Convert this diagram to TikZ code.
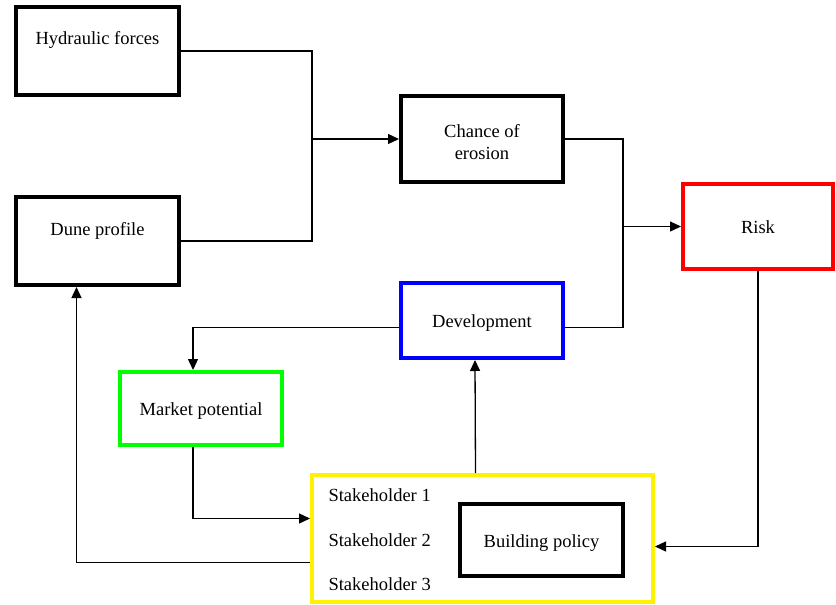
\documentclass[tikz,border=0pt]{standalone}
\usepackage{fontspec}
\setmainfont{Liberation Serif}
\usetikzlibrary{arrows.meta}

\begin{document}
\begin{tikzpicture}[x=1pt,y=-1pt,
	font=\fontsize{18.5}{22}\selectfont,
	>={Triangle[length=11pt,width=10pt]},
	box/.style={draw,line width=4pt,minimum width=163pt,minimum height=88pt,inner sep=0pt},
	one line/.style={text height=18pt,text depth=4pt},
	link/.style={line width=1.3pt}]
	\useasboundingbox (0,0) rectangle (836,605);
	\node[box,text height=18pt,text depth=30pt] at (97.5,51) (hyd) {Hydraulic forces};
	\node[box,text height=18pt,text depth=30pt] at (97.5,241) (dune) {Dune profile};
	\node[box,align=center,minimum width=162pt,minimum height=86pt] at (482,139) (chance) {\rule{0pt}{19pt}Chance of\\erosion};
	\node[box,one line,draw=red,minimum width=150pt,minimum height=85pt] at (758,226.5) (risk) {Risk};
	\node[box,one line,draw=blue,minimum width=162pt,minimum height=75pt] at (482,320.5) (dev) {Development};
	\node[box,one line,draw=green,minimum width=162pt,minimum height=73pt] at (201,408.5) (market) {Market potential};
	\node[box,draw=yellow,minimum width=341pt,minimum height=127pt] at (482.5,538.5) (yel) {};
	\node[box,one line,minimum width=163pt,minimum height=72pt] at (541.5,540) (policy) {Building policy};
	\node[anchor=west] at (325,495) (s1) {Stakeholder 1};
	\node[anchor=west] at (325,540) (s2) {Stakeholder 2};
	\node[anchor=west] at (325,584) (s3) {Stakeholder 3};
	\coordinate (j1) at (312,139);
	\coordinate (j2) at (623,226.5);
	\draw[link] (hyd.east) -| (j1) |- (dune.east);
	\draw[link,->] (j1) -- (chance.west);
	\draw[link] (chance.east) -| (j2) |- ([yshift=-7pt] dev.east);
	\draw[link,->] (j2) -- (risk.west);
	\draw[link,->] ([yshift=-7pt] dev.west) -| ([xshift=-8pt] market.north);
	\draw[link,->] ([xshift=-8pt] market.south) |- ([yshift=20pt] yel.west);
	\draw[link,->] ([xshift=-7pt] yel.north) -- ([xshift=-7pt] dev.south);
	\draw[link,->] (risk.south) |- ([yshift=-8pt] yel.east);
	\draw[link,->] ([yshift=-24pt] yel.west) -| ([xshift=-21pt] dune.south);
\end{tikzpicture}
\end{document}
